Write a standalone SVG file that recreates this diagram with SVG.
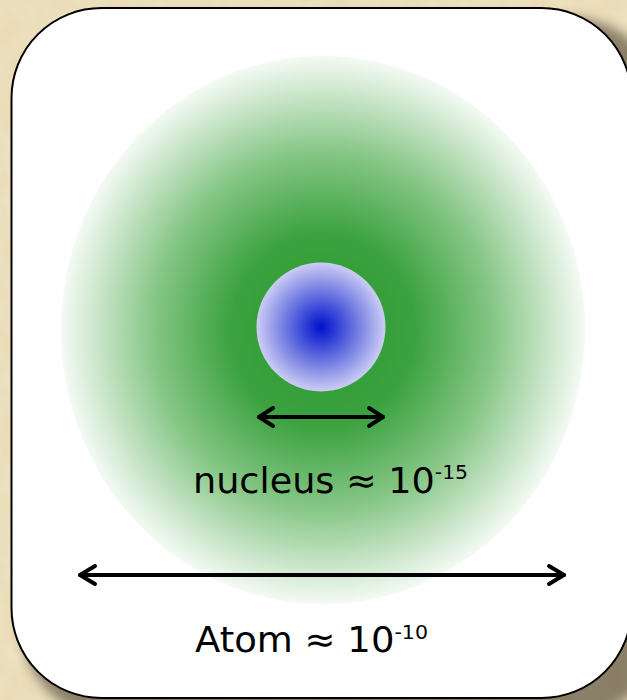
<svg xmlns="http://www.w3.org/2000/svg" width="627" height="700" viewBox="0 0 627 700">
  <defs>
    <filter id="paper" x="0" y="0" width="100%" height="100%">
      <feTurbulence type="fractalNoise" baseFrequency="0.04" numOctaves="4" seed="3" result="n"/>
      <feColorMatrix in="n" type="matrix" values="0 0 0 0 0.86  0 0 0 0 0.78  0 0 0 0 0.58  0 0 0 -1.2 0.9" result="c"/>
      <feComposite in="c" in2="SourceGraphic" operator="over"/>
    </filter>
    <filter id="shadow" x="-10%" y="-10%" width="130%" height="130%">
      <feGaussianBlur stdDeviation="6"/>
    </filter>
    <radialGradient id="atomGrad" cx="0.5" cy="0.5" r="0.5">
      <stop offset="0" stop-color="#2a9a2e"/>
      <stop offset="0.35" stop-color="#3ba23f"/>
      <stop offset="0.65" stop-color="#86c686"/>
      <stop offset="0.88" stop-color="#cfe8cf"/>
      <stop offset="1" stop-color="#f4faf4"/>
    </radialGradient>
    <radialGradient id="nucGrad" cx="0.5" cy="0.5" r="0.5">
      <stop offset="0" stop-color="#0010cc"/>
      <stop offset="0.45" stop-color="#5a66dd"/>
      <stop offset="1" stop-color="#cccdf4"/>
    </radialGradient>
    <style>
      .lbl { font-family: "DejaVu Sans", "Lato", sans-serif; fill: #000; }
      .arr { stroke: #000; stroke-width: 4; fill: none; stroke-linecap: round; stroke-linejoin: round; }
    </style>
  </defs>

  <g id="background">
    <rect x="0" y="0" width="627" height="700" fill="#eadcb6" filter="url(#paper)"/>
    <rect x="22" y="18" width="640" height="700" rx="90" fill="#3a3020" opacity="0.55" filter="url(#shadow)"/>
    <rect x="11.5" y="8" width="620" height="690" rx="90" fill="#ffffff" stroke="#000" stroke-width="2"/>
  </g>

  <g id="atom">
    <ellipse cx="323" cy="330" rx="262" ry="274" fill="url(#atomGrad)"/>
  </g>

  <g id="nucleus">
    <circle cx="321" cy="327" r="64.5" fill="url(#nucGrad)"/>
  </g>

  <g id="connectors">
    <g id="nucleus-arrow">
      <line x1="259" y1="417" x2="383" y2="417" class="arr"/>
      <polyline points="273,408 259,417 273,426" class="arr"/>
      <polyline points="369,408 383,417 369,426" class="arr"/>
    </g>
    <g id="atom-arrow">
      <line x1="80" y1="575" x2="564" y2="575" class="arr"/>
      <polyline points="95,566 80,575 95,584" class="arr"/>
      <polyline points="549,566 564,575 549,584" class="arr"/>
    </g>
  </g>

  <g id="label-nucleus">
    <text x="193" y="493" class="lbl" font-size="36" textLength="275" lengthAdjust="spacingAndGlyphs">nucleus ≈ 10<tspan font-size="20" dy="-14">-15</tspan></text>
  </g>
  <g id="label-atom">
    <text x="195" y="652" class="lbl" font-size="36" textLength="233" lengthAdjust="spacingAndGlyphs">Atom ≈ 10<tspan font-size="20" dy="-13">-10</tspan></text>
  </g>
</svg>
